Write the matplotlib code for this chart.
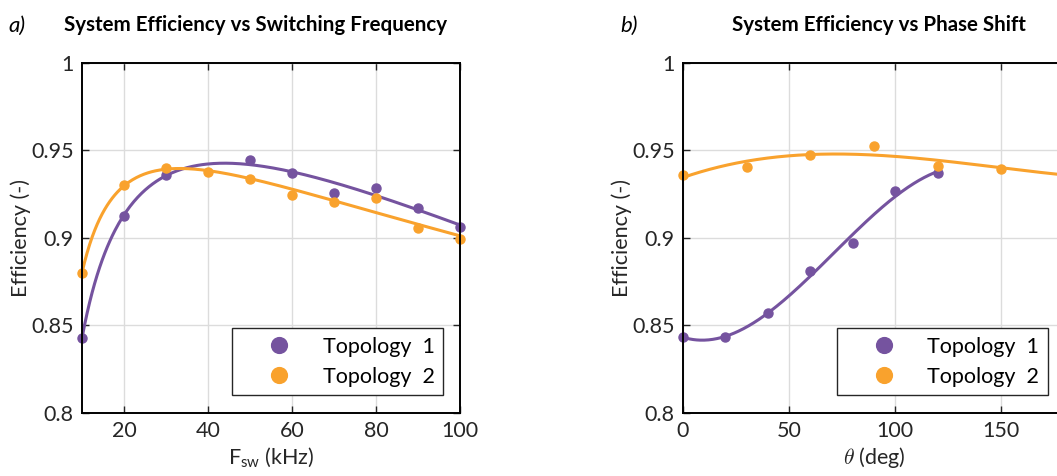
import numpy as np
import matplotlib.pyplot as plt

plt.rcParams['font.family'] = ['Lato', 'DejaVu Sans']
plt.rcParams['mathtext.fontset'] = 'custom'
plt.rcParams['mathtext.rm'] = 'Lato'
plt.rcParams['mathtext.it'] = 'Lato:italic'

PURPLE = '#75539f'
ORANGE = '#f9a22d'
INK = '#262626'

# switching frequency sweep (kHz)
fsw_topo1 = [10, 20, 30, 50, 60, 70, 80, 90, 100]
eff_fsw_topo1 = [0.843, 0.9125, 0.936, 0.9445, 0.9372, 0.9255, 0.9285, 0.917, 0.9065]
fsw_topo2 = [10, 20, 30, 40, 50, 60, 70, 80, 90, 100]
eff_fsw_topo2 = [0.880, 0.9302, 0.9402, 0.9377, 0.9335, 0.9246, 0.9208, 0.9226, 0.9055, 0.8993]

# phase shift sweep (deg)
theta_topo1 = [0, 20, 40, 60, 80, 100, 120]
eff_theta_topo1 = [0.8434, 0.8433, 0.857, 0.8811, 0.8972, 0.927, 0.9372]
theta_topo2 = [0, 30, 60, 90, 120, 150, 180]
eff_theta_topo2 = [0.936, 0.9405, 0.9477, 0.9525, 0.9413, 0.9392, 0.9368]

FS = 15.5


def fit_logpoly(x, y, xs, deg=3):
    # cubic in log(x)
    c = np.polyfit(np.log(x), y, deg)
    return np.polyval(c, np.log(xs))


def style_axes(ax):
    ax.grid(True, color='#dcdcdc', linewidth=1.0)
    ax.set_axisbelow(True)
    for s in ax.spines.values():
        s.set_linewidth(1.4)
    ax.tick_params(direction='in', length=5, width=1.0, labelsize=FS, pad=6,
                   top=True, right=True, colors=INK, labelcolor=INK)
    ax.set_ylim(0.8, 1.0)
    ax.set_yticks([0.8, 0.85, 0.9, 0.95, 1.0])
    ax.set_yticklabels(['0.8', '0.85', '0.9', '0.95', '1'])
    ax.set_ylabel('Efficiency (-)', fontsize=FS, color=INK, labelpad=0)


fig = plt.figure(figsize=(10.57, 4.76), dpi=100)
ax1 = fig.add_axes([0.0776, 0.1324, 0.3576, 0.7353])
ax2 = fig.add_axes([0.6462, 0.1324, 0.3614, 0.7353])

# a) frequency sweep
xs = np.linspace(10, 100, 300)
ax1.plot(xs, fit_logpoly(fsw_topo1, eff_fsw_topo1, xs), color=PURPLE, lw=2.2)
ax1.plot(xs, fit_logpoly(fsw_topo2, eff_fsw_topo2, xs), color=ORANGE, lw=2.2)
ax1.plot(fsw_topo1, eff_fsw_topo1, 'o', color=PURPLE, ms=6.5, label='Topology  1', clip_on=False)
ax1.plot(fsw_topo2, eff_fsw_topo2, 'o', color=ORANGE, ms=6.5, label='Topology  2', clip_on=False)
ax1.set_xlim(10, 100)
ax1.set_xticks([20, 40, 60, 80, 100])
ax1.set_xlabel(r'F$_{\mathrm{sw}}$ (kHz)', fontsize=FS, color=INK, labelpad=3)
style_axes(ax1)

# b) phase shift sweep
ts1 = np.linspace(0, 120, 300)
ts2 = np.linspace(0, 180, 300)
ax2.plot(ts1, np.polyval(np.polyfit(theta_topo1, eff_theta_topo1, 3), ts1), color=PURPLE, lw=2.2)
ax2.plot(ts2, np.polyval(np.polyfit(theta_topo2, eff_theta_topo2, 3), ts2), color=ORANGE, lw=2.2)
ax2.plot(theta_topo1, eff_theta_topo1, 'o', color=PURPLE, ms=6.5, label='Topology  1', clip_on=False)
ax2.plot(theta_topo2, eff_theta_topo2, 'o', color=ORANGE, ms=6.5, label='Topology  2', clip_on=False)
ax2.set_xlim(0, 180)
ax2.set_xticks([0, 50, 100, 150])
ax2.set_xlabel(r'$\theta$ (deg)', fontsize=FS, color=INK, labelpad=3, math_fontfamily='cm')
style_axes(ax2)

for ax, title, tx in [(ax1, 'System Efficiency vs Switching Frequency', 0.46),
                      (ax2, 'System Efficiency vs Phase Shift', 0.513)]:
    ax.set_title(title, fontsize=14.8, fontweight='bold', pad=23, x=tx)
    leg = ax.legend(loc='lower right', fontsize=FS, markerscale=1.75, handlelength=3.6,
                    fancybox=False, framealpha=1, edgecolor=INK, labelspacing=0.45,
                    bbox_to_anchor=(0.955, 0.051), borderpad=0.4, handletextpad=0.2,
                    borderaxespad=0)
    leg.get_frame().set_linewidth(1.0)

fig.text(0.008, 0.945, 'a)', fontsize=16, style='italic', va='center')
fig.text(0.587, 0.945, 'b)', fontsize=16, style='italic', va='center')

fig.savefig('out.png', dpi=100)
